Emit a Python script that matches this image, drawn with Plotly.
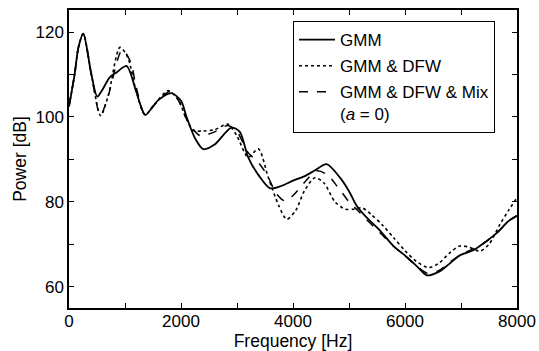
import plotly.graph_objects as go

# ---- data ----
f_gmm = [0, 100, 170, 255, 400, 505, 600, 730, 850, 1030, 1200, 1360, 1500, 1590, 1830, 2000, 2100, 2250, 2400,
         2600, 2900, 3050, 3200, 3400, 3590, 3800, 4000, 4200, 4400, 4600, 4840, 5000, 5140, 5300, 5550, 5800,
         5970, 6200, 6390, 6600, 6800, 6980, 7220, 7400, 7640, 7850, 8000]
db_gmm = [102.5, 110, 116.5, 119.6, 110, 104.8, 106.5, 109.4, 110.5, 112, 106, 100.5, 102.5, 103.9, 105.6, 103.8,
          100, 95, 92.4, 93.5, 97.5, 96.5, 90.5, 86, 83.2, 83.8, 85, 86, 87.5, 88.9, 85.7, 82.5, 79, 76.5, 73.3,
          69.5, 67.7, 65, 62.7, 63.5, 65.5, 67.4, 68.6, 70.2, 72.7, 75.5, 76.7]

f_dfw = [0, 100, 170, 255, 400, 565, 700, 910, 1050, 1200, 1360, 1500, 1770, 1950, 2100, 2220, 2400, 2600, 2840,
         3000, 3200, 3380, 3560, 3750, 3890, 4050, 4200, 4390, 4550, 4750, 4930, 5100, 5230, 5400, 5600, 5800,
         6000, 6200, 6420, 6600, 6800, 6980, 7150, 7340, 7500, 7700, 7850, 8000]
db_dfw = [102.5, 110, 116.5, 119.6, 110, 100.3, 105, 116.4, 114, 106, 100.5, 102.5, 106.2, 104, 99.5, 96.8, 96.7,
          97, 98.3, 95.5, 90.5, 92.5, 85.7, 79, 75.9, 78, 82.5, 85.7, 84.5, 80, 78.3, 78.3, 78.6, 77, 74.5, 71.5,
          68.5, 66, 64.5, 65.5, 68, 69.6, 69.3, 68.4, 70, 74.8, 78, 81]

f_mix = [0, 100, 170, 255, 400, 560, 700, 950, 1100, 1200, 1360, 1500, 1800, 1950, 2100, 2340, 2600, 2840, 3000,
         3200, 3400, 3550, 3700, 3860, 4000, 4200, 4420, 4600, 4800, 5000, 5140, 5300, 5550, 5800, 6000, 6200,
         6400, 6600, 6800, 7000, 7200, 7400, 7640, 7850, 8000]
db_mix = [102.5, 110, 116.5, 119.6, 110, 100.3, 105, 115.8, 113, 107, 100.5, 102.5, 106, 104, 99.5, 95.6, 96.5,
          98, 96.5, 91.6, 89, 86, 82, 80.2, 81.5, 84.5, 87.3, 86.5, 83.5, 80, 78.2, 76, 72.8, 69.5, 67.3, 65,
          63.2, 63.8, 65.8, 67.6, 68.8, 70.2, 72.7, 75.5, 76.8]

names = ["GMM", "GMM &amp; DFW", "GMM &amp; DFW &amp; Mix<br>(<i>a</i> = 0)"]

x_tickvals = [0, 1000, 2000, 3000, 4000, 5000, 6000, 7000, 8000]
x_ticktext = ["0", "", "2000", "", "4000", "", "6000", "", "8000"]
y_tickvals = [60, 70, 80, 90, 100, 110, 120]
y_ticktext = ["60", "", "80", "", "100", "", "120"]

FONT = "Liberation Sans, Arial, sans-serif"

fig = go.Figure()
fig.add_trace(go.Scatter(x=f_gmm, y=db_gmm, mode="lines", name=names[0], legendgroup="a",
                         line=dict(color="black", width=1.8, shape="spline", smoothing=0.8)))
fig.add_trace(go.Scatter(x=f_dfw, y=db_dfw, mode="lines", name=names[1], legendgroup="b",
                         line=dict(color="black", width=1.6, dash="dot", shape="spline", smoothing=0.8)))
fig.add_trace(go.Scatter(x=f_mix, y=db_mix, mode="lines", name=names[2], legendgroup="c",
                         line=dict(color="black", width=1.5, dash="dash", shape="spline", smoothing=0.8)))

axis_common = dict(showline=True, linecolor="black", linewidth=1.5, mirror="ticks", ticks="inside",
                   ticklen=5, tickwidth=1, tickcolor="black", showgrid=False, zeroline=False,
                   automargin=False,
                   tickfont=dict(family=FONT, size=17, color="black"))

fig.update_xaxes(range=[0, 8000], tickvals=x_tickvals, ticktext=x_ticktext, ticklabelstandoff=-3,
                 title=dict(text="Frequency [Hz]", font=dict(family=FONT, size=17.5, color="black"), standoff=0),
                 **axis_common)
fig.update_yaxes(range=[55, 125.2], tickvals=y_tickvals, ticktext=y_ticktext,
                 title=dict(text="Power [dB]", font=dict(family=FONT, size=17.5, color="black"), standoff=4),
                 **axis_common)

fig.update_layout(
    width=539, height=351,
    margin=dict(l=69, r=22, t=10, b=43),
    plot_bgcolor="white", paper_bgcolor="white",
    font=dict(family=FONT, size=17, color="black"),
    showlegend=True,
    legend=dict(x=0.5, y=0.963, xanchor="left", yanchor="top", bordercolor="black", borderwidth=1,
                bgcolor="white", font=dict(family=FONT, size=17, color="black"), valign="top",
                tracegroupgap=1, itemwidth=36),
)

fig.write_html("out.html")
